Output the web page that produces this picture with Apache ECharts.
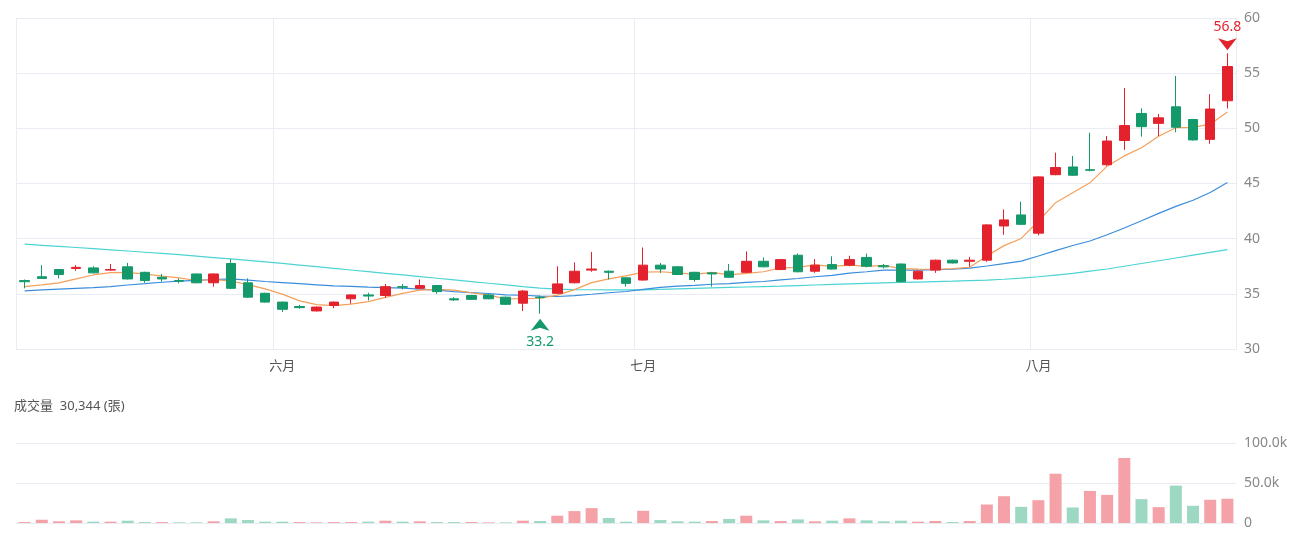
<!DOCTYPE html>
<html>
<head>
<meta charset="utf-8">
<script src="https://cdn.jsdelivr.net/npm/echarts@6/dist/echarts.min.js"></script>
<style>
  html, body { margin: 0; padding: 0; background: #fff; }
  #chart { width: 1300px; height: 533px; }
</style>
</head>
<body>
<div id="chart"></div>
<script>
// trading days shown
const dates = [
  '2025-05-09', '2025-05-12', '2025-05-13', '2025-05-14', '2025-05-15', '2025-05-16', '2025-05-19', '2025-05-20',
  '2025-05-21', '2025-05-22', '2025-05-23', '2025-05-26', '2025-05-27', '2025-05-28', '2025-05-29',
  '2025-06-02', '2025-06-03', '2025-06-04', '2025-06-05', '2025-06-06', '2025-06-09', '2025-06-10', '2025-06-11',
  '2025-06-12', '2025-06-13', '2025-06-16', '2025-06-17', '2025-06-18', '2025-06-19', '2025-06-20', '2025-06-23',
  '2025-06-24', '2025-06-25', '2025-06-26', '2025-06-27', '2025-06-30',
  '2025-07-01', '2025-07-02', '2025-07-03', '2025-07-04', '2025-07-07', '2025-07-08', '2025-07-09', '2025-07-10',
  '2025-07-11', '2025-07-14', '2025-07-15', '2025-07-16', '2025-07-17', '2025-07-18', '2025-07-21', '2025-07-22',
  '2025-07-23', '2025-07-24', '2025-07-25', '2025-07-28', '2025-07-29', '2025-07-30', '2025-07-31',
  '2025-08-01', '2025-08-04', '2025-08-05', '2025-08-06', '2025-08-07', '2025-08-08', '2025-08-11', '2025-08-12',
  '2025-08-13', '2025-08-14', '2025-08-15', '2025-08-18'
]
const monthNames = { '05': '五月', '06': '六月', '07': '七月', '08': '八月' }

const openPrices = [
  36.2, 36.55, 37.2, 37.3, 37.35, 37.15, 37.45, 36.95, 36.5, 36.2,
  36.8, 36.0, 37.75, 36.0, 35.05, 34.25, 33.85, 33.45, 33.95, 34.55,
  34.9, 34.85, 35.65, 35.5, 35.75, 34.55, 34.85, 34.9, 34.7, 34.15,
  34.7, 35.05, 36.0, 37.15, 37.05, 36.45, 36.25, 37.6, 37.45, 36.95,
  36.9, 37.05, 36.95, 37.95, 37.2, 38.5, 37.05, 37.65, 37.6, 38.3,
  37.55, 37.7, 36.35, 37.15, 38.05, 37.95, 38.05, 41.15, 42.15, 40.5,
  45.8, 46.5, 46.25, 46.7, 48.9, 51.35, 50.45, 51.95, 50.8, 49.0, 52.5
]
const closePrices = [
  36.1, 36.4, 36.75, 37.4, 36.9, 37.2, 36.35, 36.2, 36.35, 36.15,
  36.0, 36.8, 35.5, 34.7, 34.25, 33.6, 33.75, 33.8, 34.25, 34.9,
  34.8, 35.65, 35.6, 35.75, 35.2, 34.45, 34.5, 34.55, 34.05, 35.25,
  34.65, 35.9, 37.05, 37.25, 36.95, 35.95, 37.6, 37.25, 36.75, 36.3,
  36.8, 36.5, 37.95, 37.45, 38.1, 37.0, 37.6, 37.25, 38.1, 37.5,
  37.45, 36.1, 37.05, 38.05, 37.8, 38.05, 41.25, 41.7, 41.3, 45.6,
  46.45, 45.75, 46.2, 48.85, 50.25, 50.15, 50.95, 50.1, 48.95, 51.75, 55.6
]
const lowPrices = [
  35.5, 36.35, 36.4, 37.1, 36.85, 37.1, 36.3, 36.0, 36.1, 35.95,
  35.95, 35.65, 35.45, 34.65, 34.2, 33.35, 33.65, 33.4, 33.7, 34.1,
  34.4, 34.65, 35.4, 35.45, 35.0, 34.35, 34.45, 34.5, 34.0, 33.45,
  33.2, 35.0, 35.95, 37.0, 36.3, 35.65, 36.2, 36.9, 36.7, 36.1,
  35.65, 36.45, 36.9, 37.4, 37.15, 36.95, 36.9, 37.2, 37.5, 37.4,
  37.3, 36.05, 36.3, 36.9, 37.75, 37.45, 37.9, 40.35, 41.25, 40.3,
  45.75, 45.7, 46.1, 46.6, 48.05, 49.25, 49.3, 49.65, 48.9, 48.6, 51.8
]
const highPrices = [
  36.3, 37.6, 37.25, 37.6, 37.5, 37.7, 37.8, 37.0, 36.8, 36.4,
  36.85, 36.85, 38.15, 36.4, 35.1, 34.3, 34.0, 33.85, 34.3, 34.95,
  35.1, 35.9, 35.9, 36.3, 35.8, 34.7, 34.9, 34.95, 34.75, 35.35,
  34.85, 37.5, 37.85, 38.8, 37.1, 36.5, 39.2, 37.8, 37.5, 37.0,
  36.95, 37.7, 38.85, 38.3, 38.15, 38.65, 38.15, 38.4, 38.45, 38.65,
  37.7, 37.75, 37.1, 38.1, 38.1, 38.35, 41.3, 42.65, 43.35, 45.65,
  47.8, 47.5, 49.6, 49.3, 53.65, 51.8, 51.3, 54.75, 50.85, 53.1, 56.8
]
// close of the day before the first candle (colours the first volume bar)
const prevClose0 = 36.0

const ma5 = [
  35.65, 35.82, 36.0, 36.35, 36.71, 36.93, 36.92, 36.81, 36.6, 36.45,
  36.21, 36.3, 36.16, 35.83, 35.45, 34.97, 34.36, 34.02, 33.93, 34.06,
  34.3, 34.68, 35.04, 35.34, 35.4, 35.33, 35.1, 34.89, 34.55, 34.56,
  34.6, 34.88, 35.38, 36.02, 36.36, 36.62, 36.96, 37.0, 36.9, 36.77,
  36.94, 36.72, 36.86, 37.0, 37.36, 37.4, 37.62, 37.48, 37.61, 37.49,
  37.58, 37.28, 37.24, 37.23, 37.29, 37.41, 38.44, 39.37, 40.02, 41.58,
  43.26, 44.16, 45.06, 46.57, 47.5, 48.24, 49.28, 50.06, 50.08, 50.38, 51.47
]
const ma20 = [
  35.26, 35.35, 35.43, 35.5, 35.57, 35.65, 35.8, 35.92, 36.05, 36.16,
  36.22, 36.3, 36.35, 36.25, 36.12, 36.02, 35.92, 35.82, 35.72, 35.67,
  35.6, 35.57, 35.51, 35.43, 35.34, 35.2, 35.11, 35.03, 34.91, 34.87,
  34.8, 34.76, 34.83, 34.96, 35.1, 35.21, 35.41, 35.58, 35.7, 35.77,
  35.87, 35.92, 36.03, 36.12, 36.26, 36.39, 36.55, 36.68, 36.88, 37.0,
  37.14, 37.15, 37.15, 37.19, 37.23, 37.33, 37.52, 37.74, 37.97, 38.43,
  38.91, 39.38, 39.79, 40.36, 40.97, 41.62, 42.29, 42.93, 43.48, 44.19, 45.1
]
const ma60 = [
  39.5, 39.4, 39.3, 39.2, 39.1, 38.99, 38.88, 38.77, 38.66, 38.55,
  38.42, 38.29, 38.16, 38.03, 37.9, 37.76, 37.61, 37.46, 37.31, 37.16,
  37.01, 36.86, 36.71, 36.56, 36.41, 36.26, 36.11, 35.96, 35.81, 35.66,
  35.52, 35.42, 35.38, 35.37, 35.36, 35.35, 35.35, 35.4, 35.45, 35.5,
  35.54, 35.58, 35.62, 35.66, 35.7, 35.75, 35.8, 35.85, 35.9, 35.95,
  35.99, 36.03, 36.07, 36.11, 36.15, 36.2, 36.25, 36.32, 36.42, 36.55,
  36.7, 36.85, 37.05, 37.25, 37.5, 37.75, 38.0, 38.25, 38.5, 38.75, 39.0
]

const volumes = [
  1200, 4100, 2100, 3300, 1700, 1700, 2900, 1200, 1200, 800,
  800, 2100, 5800, 3700, 1700, 1700, 1200, 800, 1200, 1200,
  1700, 2900, 1700, 2100, 1200, 1200, 1200, 800, 800, 2900,
  2500, 9100, 14900, 18600, 6200, 1700, 15300, 3700, 2100, 1700,
  2500, 5000, 9100, 3300, 2500, 4500, 2100, 2900, 5800, 3300,
  2100, 2900, 1700, 2500, 1200, 2500, 23100, 33500, 20200, 28500,
  61600, 19400, 40100, 35100, 81400, 29800, 19800, 46700, 21500, 29000, 30344
]

const UP = '#e3222d'
const DOWN = '#14996a'
const UP_VOL = '#f4a2a7'
const DOWN_VOL = '#9dd8c3'
const GRID_LINE = '#e9ecf3'
const FONT = "'Noto Sans', 'Noto Sans CJK TC', sans-serif"

function isMonthStart(index) {
  return index > 0 && dates[index].slice(5, 7) !== dates[index - 1].slice(5, 7)
}

function fmtThousands(n) {
  return String(n).replace(/\B(?=(\d{3})+(?!\d))/g, ',')
}

const candleData = dates.map((d, i) => [openPrices[i], closePrices[i], lowPrices[i], highPrices[i]])
const volumeData = volumes.map((v, i) => {
  const prev = i === 0 ? prevClose0 : closePrices[i - 1]
  return {
    value: v,
    itemStyle: { color: closePrices[i] >= prev ? UP_VOL : DOWN_VOL }
  }
})

const chart = echarts.init(document.getElementById('chart'), null, { renderer: 'canvas' })

const option = {
  animation: false,
  textStyle: { fontFamily: FONT },
  title: {
    text: '成交量  ' + fmtThousands(volumes[volumes.length - 1]) + ' (張)',
    left: 14,
    top: 400,
    padding: 0,
    textStyle: { fontSize: 13, fontWeight: 'normal', color: '#555', fontFamily: FONT }
  },
  grid: [
    { left: 16, right: 64, top: 18, height: 331 },
    { left: 16, right: 64, top: 443, height: 80 }
  ],
  xAxis: [
    {
      type: 'category',
      data: dates,
      boundaryGap: true,
      axisLine: { lineStyle: { color: GRID_LINE } },
      axisTick: { show: false },
      axisLabel: {
        interval: (i) => isMonthStart(i),
        formatter: (v) => monthNames[v.slice(5, 7)],
        color: '#555',
        fontSize: 13,
        margin: 11
      },
      splitLine: {
        show: true,
        interval: (i) => i === 0 || isMonthStart(i),
        lineStyle: { color: GRID_LINE }
      }
    },
    {
      type: 'category',
      gridIndex: 1,
      data: dates,
      boundaryGap: true,
      axisLine: { lineStyle: { color: GRID_LINE } },
      axisTick: { show: false },
      axisLabel: { show: false },
      splitLine: { show: false }
    }
  ],
  yAxis: [
    {
      position: 'right',
      min: 30,
      max: 60,
      interval: 5,
      axisLine: { show: true, lineStyle: { color: GRID_LINE } },
      axisTick: { show: false },
      axisLabel: { color: '#888', fontSize: 14, margin: 8 },
      splitLine: { lineStyle: { color: GRID_LINE } }
    },
    {
      gridIndex: 1,
      position: 'right',
      min: 0,
      max: 100000,
      interval: 50000,
      axisLine: { show: false },
      axisTick: { show: false },
      axisLabel: {
        color: '#888',
        fontSize: 14,
        margin: 8,
        formatter: (v) => v === 0 ? '0' : (v / 1000).toFixed(1) + 'k'
      },
      splitLine: { lineStyle: { color: GRID_LINE } }
    }
  ],
  series: [
    {
      name: 'MA60',
      type: 'line',
      data: ma60,
      symbol: 'none',
      lineStyle: { width: 1.2, color: '#4dd3d3' },
      z: 2
    },
    {
      name: 'MA20',
      type: 'line',
      data: ma20,
      symbol: 'none',
      lineStyle: { width: 1.2, color: '#3a8ddc' },
      z: 2
    },
    {
      name: 'MA5',
      type: 'line',
      data: ma5,
      symbol: 'none',
      lineStyle: { width: 1.2, color: '#f4a05a' },
      z: 2
    },
    {
      name: 'K',
      type: 'candlestick',
      data: candleData,
      barWidth: 10,
      z: 3,
      itemStyle: {
        color: UP,
        color0: DOWN,
        borderColor: UP,
        borderColor0: DOWN,
        borderWidth: 1
      },
      markPoint: {
        symbol: 'arrow',
        symbolSize: [14, 12],
        label: { show: true, fontSize: 14, formatter: (p) => p.value },
        data: [
          {
            type: 'max',
            valueDim: 'highest',
            symbolRotate: 180,
            symbolOffset: [0, -3],
            itemStyle: { color: UP },
            label: { position: 'top', distance: 4, color: UP }
          },
          {
            type: 'min',
            valueDim: 'lowest',
            symbolOffset: [0, 5],
            itemStyle: { color: DOWN },
            label: { position: 'bottom', distance: 4, color: DOWN }
          }
        ]
      }
    },
    {
      name: '成交量',
      type: 'bar',
      xAxisIndex: 1,
      yAxisIndex: 1,
      data: volumeData,
      barWidth: 12
    }
  ]
}

chart.setOption(option)
</script>
</body>
</html>
